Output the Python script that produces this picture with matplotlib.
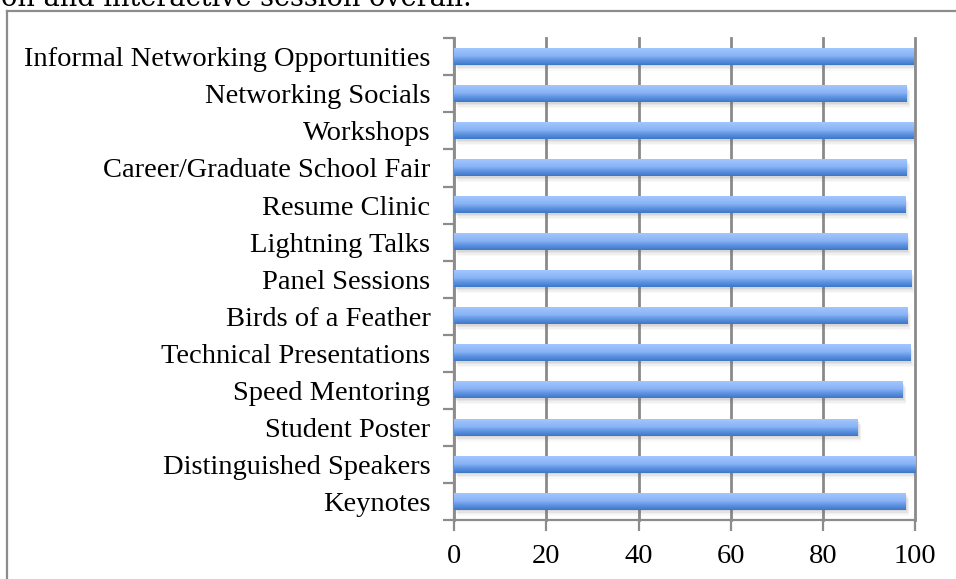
import numpy as np
import matplotlib
matplotlib.use("Agg")
import matplotlib.pyplot as plt
from matplotlib.colors import LinearSegmentedColormap
from matplotlib.lines import Line2D
import matplotlib.transforms as mtransforms

categories = [
    "Keynotes",
    "Distinguished Speakers",
    "Student Poster",
    "Speed Mentoring",
    "Technical Presentations",
    "Birds of a Feather",
    "Panel Sessions",
    "Lightning Talks",
    "Resume Clinic",
    "Career/Graduate School Fair",
    "Workshops",
    "Networking Socials",
    "Informal Networking Opportunities",
]
values = [97.9, 100.0, 87.5, 97.3, 98.9, 98.3, 99.1, 98.3, 97.8, 98.2, 99.6, 98.2, 99.6]
xticks = [0, 20, 40, 60, 80, 100]
header_text = "on and interactive session overall."

W, H = 956, 579
fig = plt.figure(figsize=(W / 100, H / 100), dpi=100)
fig.patch.set_facecolor("white")

serif = ["Liberation Serif", "DejaVu Serif"]

# header text (cut off at top, as in the reference)
fig.text(1 / W, 1 - 5.5 / H, header_text, fontsize=19.5, family=["DejaVu Serif"],
         ha="left", va="baseline", color="black")

# border lines of the chart box
fig.add_artist(Line2D([6.5 / W, 1.0], [1 - 10.5 / H, 1 - 10.5 / H],
                      transform=fig.transFigure, color="#8c8c8c", lw=1.6))
fig.add_artist(Line2D([6.5 / W, 6.5 / W], [0, 1 - 10.5 / H],
                      transform=fig.transFigure, color="#8c8c8c", lw=1.6))

left, right = 454 / W, 915.3 / W
bottom, top = 1 - 520 / H, 1 - 38.3 / H
ax = fig.add_axes([left, bottom, right - left, top - bottom])

y = np.arange(len(categories))
bh = 0.44

# soft shadows under the bars
for dx, dy, a in [(1.0, -1.5, 0.10), (2.0, -3.0, 0.08), (3.0, -4.5, 0.06), (3.5, -6.0, 0.04)]:
    tr = mtransforms.offset_copy(ax.transData, fig=fig, x=dx, y=dy, units="dots")
    ax.barh(y, values, height=bh, color="#6a6a6a", alpha=a, linewidth=0,
            transform=tr, zorder=2)

cmap = LinearSegmentedColormap.from_list(
    "barg", [(0.0, "#3f77c7"), (0.3, "#5f95e3"), (0.55, "#89b3f5"), (1.0, "#a2c6fe")])
grad = np.linspace(0, 1, 64).reshape(-1, 1)
for yi, v in zip(y, values):
    ax.imshow(grad, extent=(0, v, yi - bh / 2, yi + bh / 2), origin="lower",
              cmap=cmap, aspect="auto", interpolation="bilinear", zorder=3)

ax.set_xlim(0, 100)
ax.set_ylim(-0.5, len(categories) - 0.5)

ax.set_xticks(xticks)
ax.set_xticklabels([str(t) for t in xticks], family=serif, fontsize=20.5)
ax.set_yticks(y)
ax.set_yticklabels(categories, family=serif, fontsize=20.5)
ax.set_yticks(np.arange(-0.5, len(categories), 1.0), minor=True)
ax.tick_params(axis="y", which="major", length=0, pad=17)
ax.tick_params(axis="y", which="minor", length=8, width=1.6, color="#8c8c8c")
ax.tick_params(axis="x", which="major", length=8, width=1.6, color="#8c8c8c", pad=9)

ax.grid(axis="x", color="#8a8a8a", lw=2.0, zorder=1)
for gl in ax.get_xgridlines():
    gl.set_clip_on(False)
ax.set_axisbelow(True)
for s in ["top", "right"]:
    ax.spines[s].set_visible(False)
for s in ["left", "bottom"]:
    ax.spines[s].set_color("#8c8c8c")
    ax.spines[s].set_linewidth(1.6)

fig.savefig("out.png", dpi=100)
